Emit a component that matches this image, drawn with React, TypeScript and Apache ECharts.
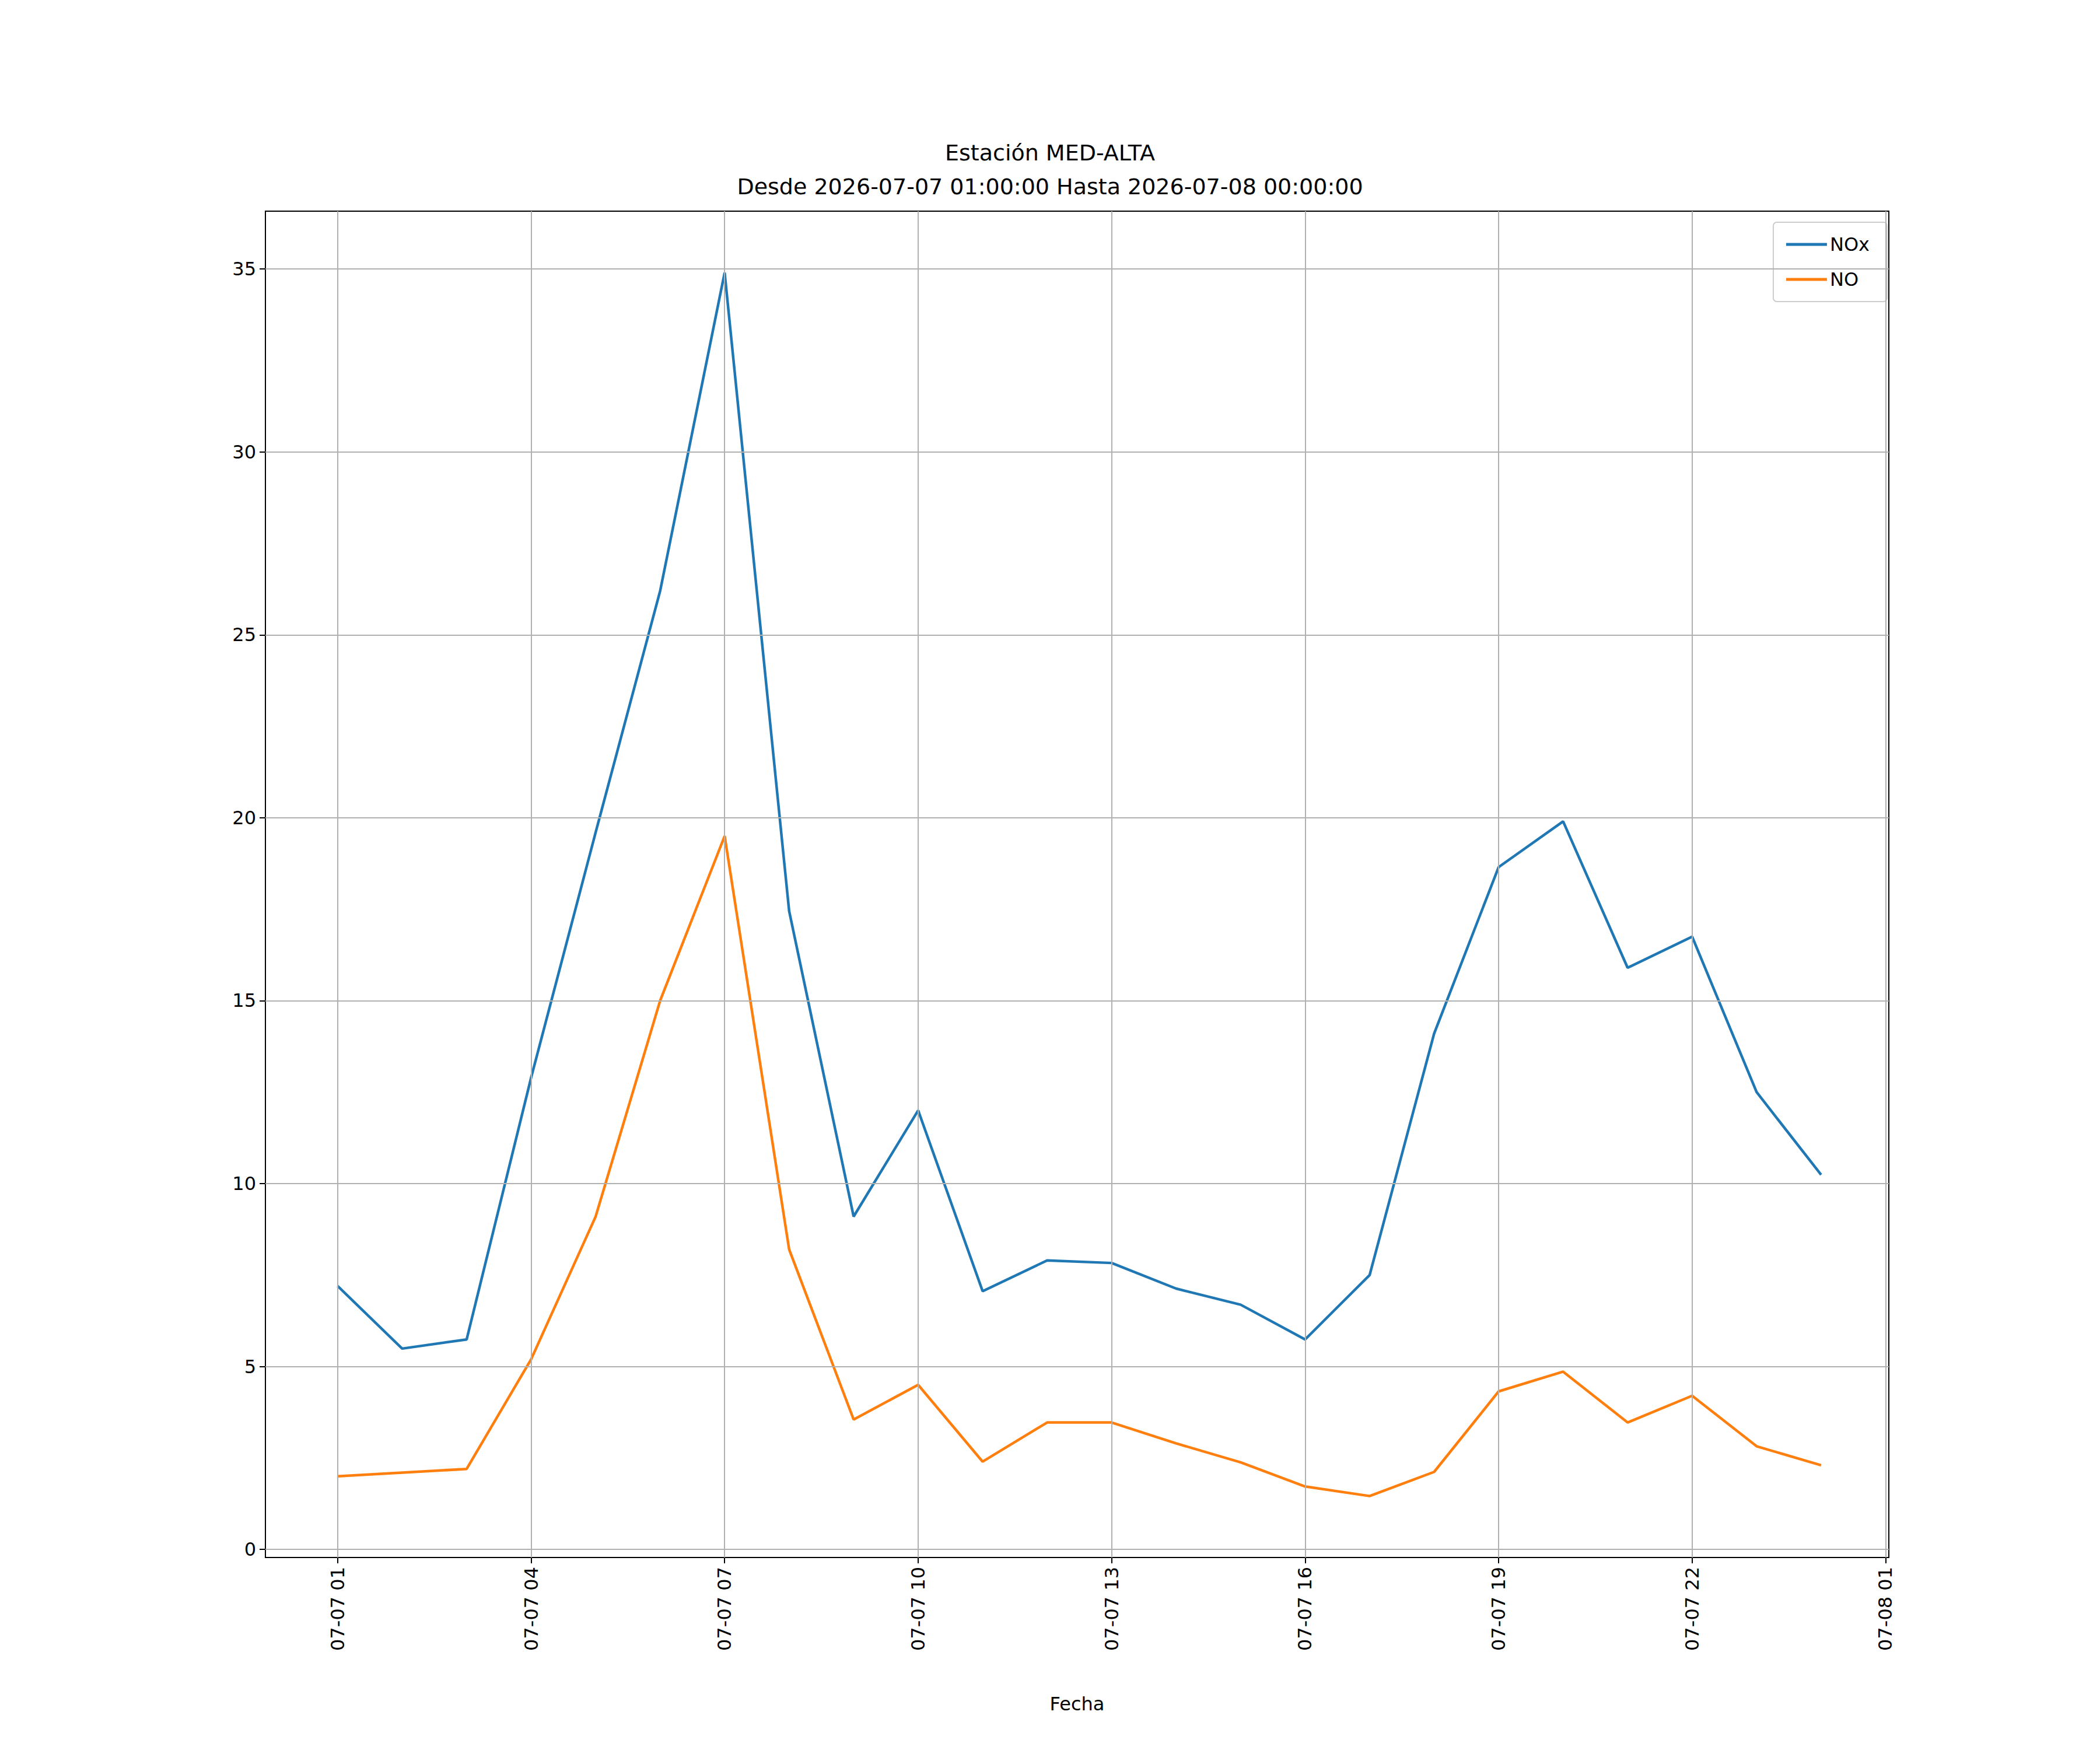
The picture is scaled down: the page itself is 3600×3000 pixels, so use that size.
import { useEffect, useRef } from 'react';
import * as echarts from 'echarts';

const hours = [1, 2, 3, 4, 5, 6, 7, 8, 9, 10, 11, 12, 13, 14, 15, 16, 17, 18, 19, 20, 21, 22, 23, 24];
const noxValues = [7.2, 5.49, 5.74, 12.9, 19.6, 26.2, 34.9, 17.45, 9.1, 12.0, 7.06, 7.9, 7.83, 7.13, 6.69, 5.74, 7.5, 14.1, 18.65, 19.9, 15.9, 16.75, 12.5, 10.24];
const noValues = [2.0, 2.1, 2.2, 5.2, 9.1, 15.0, 19.5, 8.2, 3.55, 4.5, 2.4, 3.47, 3.47, 2.9, 2.38, 1.72, 1.46, 2.12, 4.32, 4.86, 3.47, 4.2, 2.82, 2.3];
const xTicks = [1, 4, 7, 10, 13, 16, 19, 22, 25];
const yTicks = [0, 5, 10, 15, 20, 25, 30, 35];

const FONT = 'DejaVu Sans';

function hourLabel(h: number): string {
  const day = h >= 24 ? '08' : '07';
  const hh = h % 24;
  return `07-${day} ${String(hh).padStart(2, '0')}`;
}

export default function App() {
  const ref = useRef<HTMLDivElement>(null);

  useEffect(() => {
    if (!ref.current) return;
    const chart = echarts.init(ref.current, undefined, { renderer: 'svg' });
    const gridLine = { color: '#b0b0b0', width: 2, type: 'solid' as const };
    chart.setOption({
      animation: false,
      backgroundColor: '#ffffff',
      textStyle: { fontFamily: FONT },
      title: {
        text: 'Estación MED-ALTA\nDesde 2026-07-07 01:00:00 Hasta 2026-07-08 00:00:00',
        left: 'center',
        top: 228,
        textStyle: { fontFamily: FONT, fontSize: 38, fontWeight: 'normal', color: '#000', lineHeight: 58 },
      },
      legend: {
        orient: 'vertical',
        right: 365,
        top: 381,
        itemWidth: 70,
        itemHeight: 5,
        itemGap: 28,
        padding: [22, 30, 22, 22],
        borderColor: '#cccccc',
        borderWidth: 2,
        borderRadius: 6,
        textStyle: { fontFamily: FONT, fontSize: 32, color: '#000' },
        data: [
          { name: 'NOx', icon: 'rect' },
          { name: 'NO', icon: 'rect' },
        ],
      },
      grid: { left: 455, right: 362, top: 362, bottom: 330, show: true, borderColor: '#000', borderWidth: 2, backgroundColor: 'transparent' },
      xAxis: {
        type: 'value',
        min: -0.12,
        max: 25.05,
        name: 'Fecha',
        nameLocation: 'middle',
        nameGap: 235,
        nameTextStyle: { fontFamily: FONT, fontSize: 32, color: '#000' },
        axisLine: { show: true, onZero: false, lineStyle: { color: '#000', width: 2 } },
        axisTick: { show: true, customValues: xTicks, length: 10, lineStyle: { color: '#000', width: 2 } },
        axisLabel: {
          customValues: xTicks,
          rotate: 90,
          fontFamily: FONT,
          fontSize: 32,
          color: '#000',
          margin: 16,
          formatter: (v: number) => hourLabel(v),
        },
        splitLine: { show: false },
      },
      yAxis: {
        type: 'value',
        min: -0.22,
        max: 36.58,
        axisLine: { show: true, onZero: false, lineStyle: { color: '#000', width: 2 } },
        axisTick: { show: true, customValues: yTicks, length: 10, lineStyle: { color: '#000', width: 2 } },
        axisLabel: { customValues: yTicks, fontFamily: FONT, fontSize: 32, color: '#000', margin: 16 },
        splitLine: { show: false },
      },
      series: [
        {
          name: 'grid',
          type: 'line',
          data: [],
          silent: true,
          markLine: {
            silent: true,
            symbol: 'none',
            label: { show: false },
            lineStyle: gridLine,
            data: [
              ...xTicks.map((v) => ({ xAxis: v })),
              ...yTicks.map((v) => ({ yAxis: v })),
            ],
          },
        },
        {
          name: 'NOx',
          type: 'line',
          data: hours.map((h, i) => [h, noxValues[i]]),
          showSymbol: false,
          color: '#1f77b4',
          lineStyle: { width: 4.5, color: '#1f77b4' },
        },
        {
          name: 'NO',
          type: 'line',
          data: hours.map((h, i) => [h, noValues[i]]),
          showSymbol: false,
          color: '#ff7f0e',
          lineStyle: { width: 4.5, color: '#ff7f0e' },
        },
      ],
    });
    return () => chart.dispose();
  }, []);

  return <div ref={ref} style={{ position: 'absolute', left: 0, top: 0, width: 3600, height: 3000 }} />;
}
